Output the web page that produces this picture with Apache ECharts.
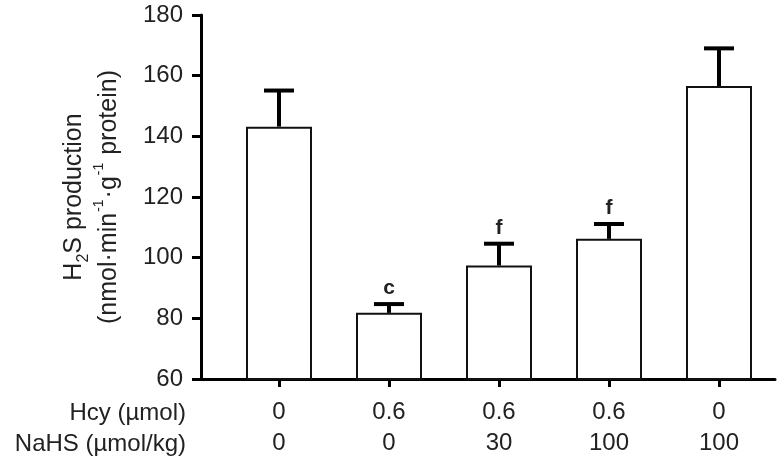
<!DOCTYPE html>
<html>
<head>
<meta charset="utf-8">
<script src="https://cdn.jsdelivr.net/npm/echarts@6/dist/echarts.min.js"></script>
<style>html,body{margin:0;padding:0;background:#fff;}#c{width:781px;height:467px;}</style>
</head>
<body>
<div id="c"></div>
<script>
const hcy = ['0', '0.6', '0.6', '0.6', '0'];
const nahs = ['0', '0', '30', '100', '100'];
const means = [143.2, 81.8, 97.4, 106.2, 156.6];
const upper = [155.1, 84.7, 104.6, 111.1, 169.0];
const sig = ['', 'c', 'f', 'f', ''];
const yTicks = { min: 60, max: 180, interval: 20 };

const cats = hcy.map((h, i) => h + '\n' + nahs[i]);
const FONT = 'Liberation Sans, Arial, sans-serif';
const TXT = '#222';

const chart = echarts.init(document.getElementById('c'));
chart.setOption({
  animation: false,
  backgroundColor: '#fff',
  grid: [
    { left: 201, right: 6, top: 15, bottom: 88 },
    { left: 224, right: 7, top: 15, bottom: 88 }
  ],
  xAxis: [
    { type: 'value', gridIndex: 0, min: 0, max: 1,
      axisLine: { show: true, onZero: false, lineStyle: { color: '#000', width: 3 } },
      axisTick: { show: false }, axisLabel: { show: false }, splitLine: { show: false } },
    { type: 'category', gridIndex: 1, data: cats,
      axisLine: { show: false },
      axisTick: { show: true, alignWithLabel: true, length: 8, lineStyle: { color: '#000', width: 3 } },
      axisLabel: { fontFamily: FONT, fontSize: 24, color: TXT, lineHeight: 31, margin: 18 },
      splitLine: { show: false } }
  ],
  yAxis: [
    { type: 'value', gridIndex: 0, min: yTicks.min, max: yTicks.max, interval: yTicks.interval,
      axisLine: { show: true, lineStyle: { color: '#000', width: 3 } },
      axisTick: { show: true, length: 9, lineStyle: { color: '#000', width: 3 } },
      axisLabel: { fontFamily: FONT, fontSize: 24, color: TXT, margin: 18 },
      splitLine: { show: false },
      name: '{a|H}{sub|2}{a|S production}\n{a|(nmol·min}{sup|-1}{a|·g}{sup|-1}{a| protein)}',
      nameLocation: 'middle', nameRotate: 90, nameGap: 74,
      nameTextStyle: {
        fontFamily: FONT, fontSize: 25, color: TXT, lineHeight: 35,
        rich: {
          a: { fontFamily: FONT, fontSize: 25, color: TXT, lineHeight: 35 },
          sub: { fontFamily: FONT, fontSize: 16, color: TXT, lineHeight: 35, verticalAlign: 'bottom', padding: [5, 0, 0, 0] },
          sup: { fontFamily: FONT, fontSize: 14, color: TXT, lineHeight: 35, verticalAlign: 'top', padding: [0, 1, 8, 1] }
        }
      } },
    { type: 'value', gridIndex: 1, min: yTicks.min, max: yTicks.max, interval: yTicks.interval, show: false }
  ],
  graphic: [
    { type: 'text', right: 781 - 186, top: 398,
      style: { text: 'Hcy (µmol)\nNaHS (µmol/kg)', font: '24px Liberation Sans, Arial, sans-serif',
               fill: TXT, textAlign: 'right', lineHeight: 31 } }
  ],
  series: [
    { type: 'bar', xAxisIndex: 1, yAxisIndex: 1, data: means, barWidth: 66,
      itemStyle: { color: '#fff', borderColor: '#111', borderWidth: 2 }, z: 2 },
    { type: 'custom', xAxisIndex: 1, yAxisIndex: 1, z: 3,
      data: means.map((m, i) => [i, m, upper[i]]),
      renderItem: function (params, api) {
        const i = api.value(0);
        const p0 = api.coord([i, api.value(1)]);
        const p1 = api.coord([i, api.value(2)]);
        const children = [
          { type: 'line', shape: { x1: p0[0], y1: p0[1], x2: p1[0], y2: p1[1] }, style: { stroke: '#000', lineWidth: 4 } },
          { type: 'line', shape: { x1: p1[0] - 15, y1: p1[1], x2: p1[0] + 15, y2: p1[1] }, style: { stroke: '#000', lineWidth: 4 } }
        ];
        if (sig[i]) {
          children.push({ type: 'text', x: p1[0], y: p1[1] - 16,
            style: { text: sig[i], font: 'bold 21px Liberation Sans, Arial, sans-serif', fill: TXT, textAlign: 'center', textVerticalAlign: 'middle' } });
        }
        return { type: 'group', children: children };
      } }
  ]
});
</script>
</body>
</html>
